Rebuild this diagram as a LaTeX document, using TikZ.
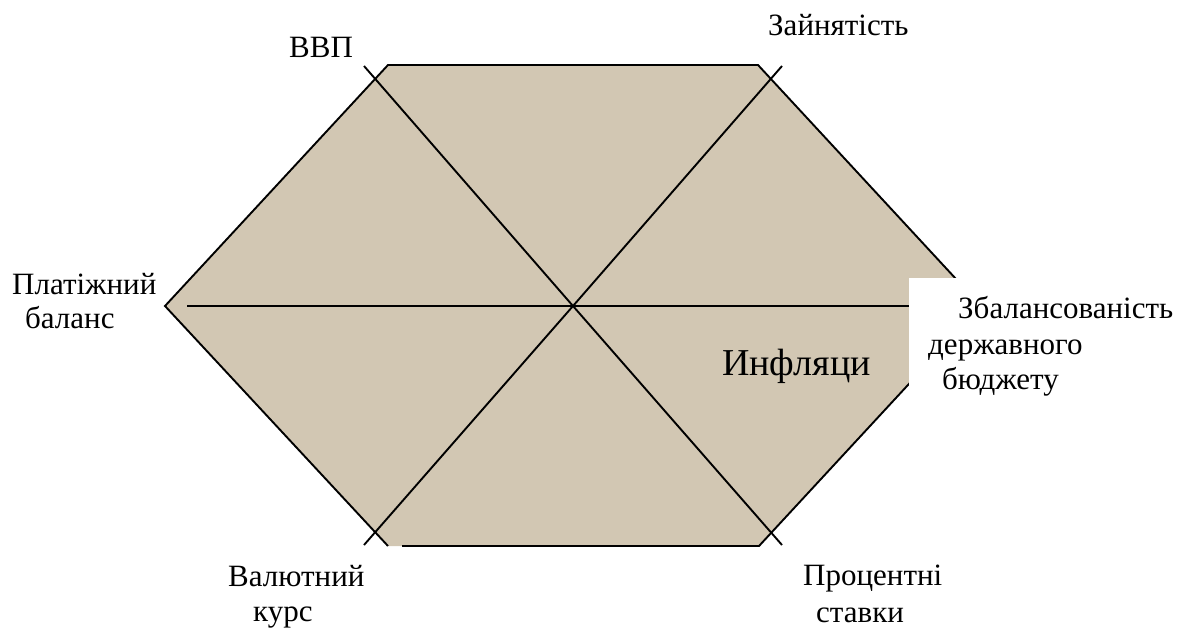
\documentclass[tikz,border=0pt]{standalone}
\usepackage{fontspec}
\setmainfont{Liberation Serif}
\definecolor{linen}{RGB}{210,199,179}
\begin{document}
\begin{tikzpicture}[x=1pt, y=-1pt,
    lbl/.style={inner sep=0pt, anchor=base west, font=\fontsize{31}{37}\selectfont},
    axisline/.style={line width=1.9pt}]
  \useasboundingbox (0,0) rectangle (1190,632);
  % Corners of the hexagon
  \coordinate (tl) at (388,65);
  \coordinate (tr) at (758,65);
  \coordinate (r)  at (981,306);
  \coordinate (br) at (759,546);
  \coordinate (bl) at (388,546);
  \coordinate (l)  at (165,306);
  \coordinate (bs) at (402,546);
  \fill[linen] (tl) -- (tr) -- (r) -- (br) -- (bl) -- (l) -- cycle;
  \draw[axisline] (bs) -- (br) -- (r) -- (tr) -- (tl) -- (l) -- (bl);
  % Lines through the centre
  \coordinate (c) at (573,306);
  \coordinate (d1a) at (364,66);
  \coordinate (d1b) at (782,545);
  \coordinate (d2a) at (782,66);
  \coordinate (d2b) at (364,545);
  \coordinate (ha) at (187,306);
  \coordinate (hb) at (909,306);
  \foreach \a/\b in {d1a/d1b, d2a/d2b, ha/hb} {
    \draw[axisline] (\a) -- (c) -- (\b);
  }
  % White box behind the right label
  \fill[white] (909,278) rectangle (1190,420);
  % Labels
  \node[lbl] (vvp) at (289,57) {ВВП};
  \node[lbl] (empl) at (768,35) {Зайнятість};
  \node[lbl] (pay1) at (12,294) {Платіжний};
  \node[lbl] (pay2) at ([xshift=13pt, yshift=-34pt]pay1.base west) {баланс};
  \node[lbl] (bud1) at (958,318) {Збалансованість};
  \node[lbl] (bud2) at (928,354) {державного};
  \node[lbl] (bud3) at (942,389) {бюджету};
  \node[lbl] (cur1) at (228,586) {Валютний};
  \node[lbl] (cur2) at ([xshift=25pt, yshift=-35pt]cur1.base west) {курс};
  \node[lbl] (rate1) at (803,585) {Процентні};
  \node[lbl] (rate2) at ([xshift=13pt, yshift=-37pt]rate1.base west) {ставки};
  \node[lbl, font=\fontsize{38}{42}\selectfont] (infl) at (722,375) {Инфляци};
\end{tikzpicture}
\end{document}
